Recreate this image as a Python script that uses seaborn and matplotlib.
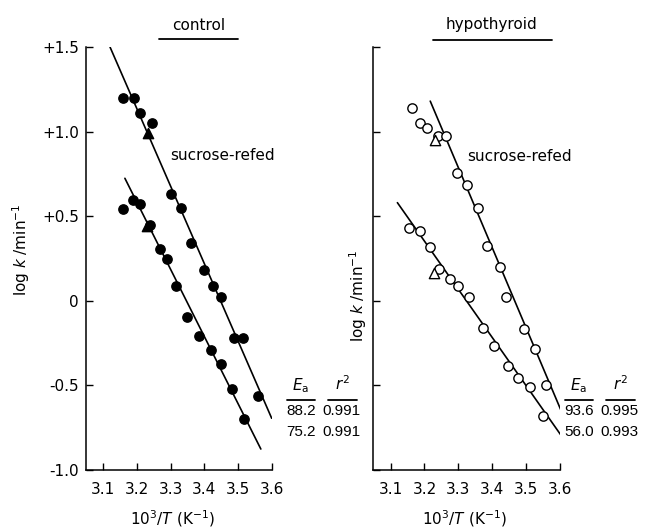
import matplotlib
matplotlib.use("Agg")
import matplotlib.pyplot as plt
import seaborn as sns
import pandas as pd

sns.set_style("ticks")
plt.rcParams['font.family'] = ['DejaVu Sans']
plt.rcParams['mathtext.fontset'] = 'dejavusans'
plt.rcParams['text.color'] = 'black'
plt.rcParams['xtick.color'] = 'black'
plt.rcParams['ytick.color'] = 'black'

# control, sucrose-refed (upper) and lower series, filled circles
ctl_up_x = [3.160, 3.193, 3.211, 3.246, 3.301, 3.331, 3.360, 3.400, 3.426, 3.448, 3.489, 3.515, 3.558]
ctl_up_y = [1.20, 1.20, 1.11, 1.05, 0.63, 0.55, 0.34, 0.18, 0.09, 0.02, -0.22, -0.22, -0.56]
ctl_lo_x = [3.160, 3.190, 3.209, 3.239, 3.270, 3.289, 3.316, 3.350, 3.384, 3.421, 3.448, 3.481, 3.518]
ctl_lo_y = [0.545, 0.596, 0.57, 0.45, 0.306, 0.247, 0.09, -0.096, -0.208, -0.292, -0.376, -0.52, -0.70]
ctl_tri_x = [3.234, 3.229]
ctl_tri_y = [0.99, 0.443]

# hypothyroid, open circles
hyp_up_x = [3.162, 3.187, 3.207, 3.241, 3.264, 3.296, 3.325, 3.357, 3.385, 3.424, 3.442, 3.493, 3.526, 3.560]
hyp_up_y = [1.14, 1.048, 1.019, 0.973, 0.973, 0.753, 0.684, 0.55, 0.324, 0.202, 0.022, -0.165, -0.285, -0.496]
hyp_lo_x = [3.155, 3.187, 3.217, 3.243, 3.276, 3.299, 3.332, 3.372, 3.404, 3.447, 3.477, 3.510, 3.551]
hyp_lo_y = [0.429, 0.415, 0.32, 0.185, 0.127, 0.09, 0.02, -0.161, -0.27, -0.383, -0.456, -0.51, -0.683]
hyp_tri_x = [3.231, 3.228]
hyp_tri_y = [0.95, 0.165]

# regression lines (end points)
ctl_fit_x = [[3.121, 3.599], [3.165, 3.567]]
ctl_fit_y = [[1.50, -0.694], [0.724, -0.876]]
hyp_fit_x = [[3.217, 3.602], [3.120, 3.607]]
hyp_fit_y = [[1.18, -0.643], [0.58, -0.806]]

ea_ctl = ["88.2", "75.2"]
r2_ctl = ["0.991", "0.991"]
ea_hyp = ["93.6", "56.0"]
r2_hyp = ["0.995", "0.993"]

xticks = [3.1, 3.2, 3.3, 3.4, 3.5, 3.6]
yticks = [1.5, 1.0, 0.5, 0, -0.5, -1.0]
yticklabels = ["+1.5", "+1.0", "+0.5", "0", "-0.5", "-1.0"]

W, H = 651, 529
fig = plt.figure(figsize=(W / 100, H / 100), dpi=100)
ax1 = fig.add_axes([86 / W, 59 / H, 186 / W, 423 / H])
ax2 = fig.add_axes([373 / W, 59 / H, 187 / W, 423 / H])

fs = 11


def panel(ax, upx, upy, lox, loy, trx, try_, fitx, fity, filled, xmin):
    fc = "black" if filled else "white"
    pts = pd.DataFrame({"x": upx + lox, "y": upy + loy})
    sns.scatterplot(data=pts, x="x", y="y", ax=ax, s=45, marker="o",
                    facecolor=fc, edgecolor="black", linewidth=1.0, zorder=3)
    tri = pd.DataFrame({"x": trx, "y": try_})
    sns.scatterplot(data=tri, x="x", y="y", ax=ax, s=55, marker="^",
                    facecolor=fc, edgecolor="black", linewidth=1.0, zorder=3)
    for fx, fy in zip(fitx, fity):
        sns.lineplot(x=fx, y=fy, ax=ax, color="black", linewidth=1.2)
    ax.set_xlim(xmin, 3.6)
    ax.set_ylim(-1.0, 1.5)
    ax.set_xticks(xticks)
    ax.set_yticks(yticks)
    ax.tick_params(direction="in", length=5, width=1, colors="black", labelsize=fs)
    ax.tick_params(axis="x", pad=9)
    ax.tick_params(axis="y", pad=5)
    for s in ["top", "right"]:
        ax.spines[s].set_visible(False)
    for s in ["left", "bottom"]:
        ax.spines[s].set_linewidth(1.1)
        ax.spines[s].set_color("black")
    ax.set_xlabel("")
    ax.set_ylabel("")


panel(ax1, ctl_up_x, ctl_up_y, ctl_lo_x, ctl_lo_y, ctl_tri_x, ctl_tri_y,
      ctl_fit_x, ctl_fit_y, True, 3.05)
panel(ax2, hyp_up_x, hyp_up_y, hyp_lo_x, hyp_lo_y, hyp_tri_x, hyp_tri_y,
      hyp_fit_x, hyp_fit_y, False, 3.048)

ax1.set_yticklabels(yticklabels)
ax2.set_yticklabels([])
ax1.set_xticklabels([str(v) for v in xticks])
ax2.set_xticklabels([str(v) for v in xticks])

ax1.text(3.3, 0.86, "sucrose-refed", fontsize=fs, va="center")
ax2.text(3.325, 0.85, "sucrose-refed", fontsize=fs, va="center")


def ftext(px, py, s, **kw):
    kw.setdefault("fontsize", fs)
    fig.text(px / W, 1 - py / H, s, **kw)


def fline(x0, x1, py):
    fig.add_artist(plt.Line2D([x0 / W, x1 / W], [1 - py / H, 1 - py / H],
                              color="black", linewidth=1.3))


# titles with underline
ftext(199, 25, "control", ha="center", va="center")
fline(159, 238, 39)
ftext(492, 25, "hypothyroid", ha="center", va="center")
fline(433, 552, 40)

# axis labels
ftext(21, 250, "log $k$ /min$^{-1}$", rotation=90, ha="center", va="center")
ftext(358, 296, "log $k$ /min$^{-1}$", rotation=90, ha="center", va="center")
ftext(172, 519, "10$^3$/$T$ (K$^{-1}$)", ha="center", va="center")
ftext(464, 519, "10$^3$/$T$ (K$^{-1}$)", ha="center", va="center")

# E_a / r^2 tables
for x0, eas, r2s in [(301, ea_ctl, r2_ctl), (579, ea_hyp, r2_hyp)]:
    ftext(x0, 386, "$E_\\mathrm{a}$", ha="center", va="center")
    ftext(x0 + 41, 384, "$r^2$", ha="center", va="center")
    fline(x0 - 14, x0 + 14, 400)
    fline(x0 + 27, x0 + 56, 400)
    for i, (ea, r2) in enumerate(zip(eas, r2s)):
        ftext(x0, 411 + 21 * i, ea, ha="center", va="center",
              fontsize=11, family="Liberation Sans")
        ftext(x0 + 40, 411 + 21 * i, r2, ha="center", va="center",
              fontsize=11, family="Liberation Sans")

fig.savefig("out.png", dpi=100)
